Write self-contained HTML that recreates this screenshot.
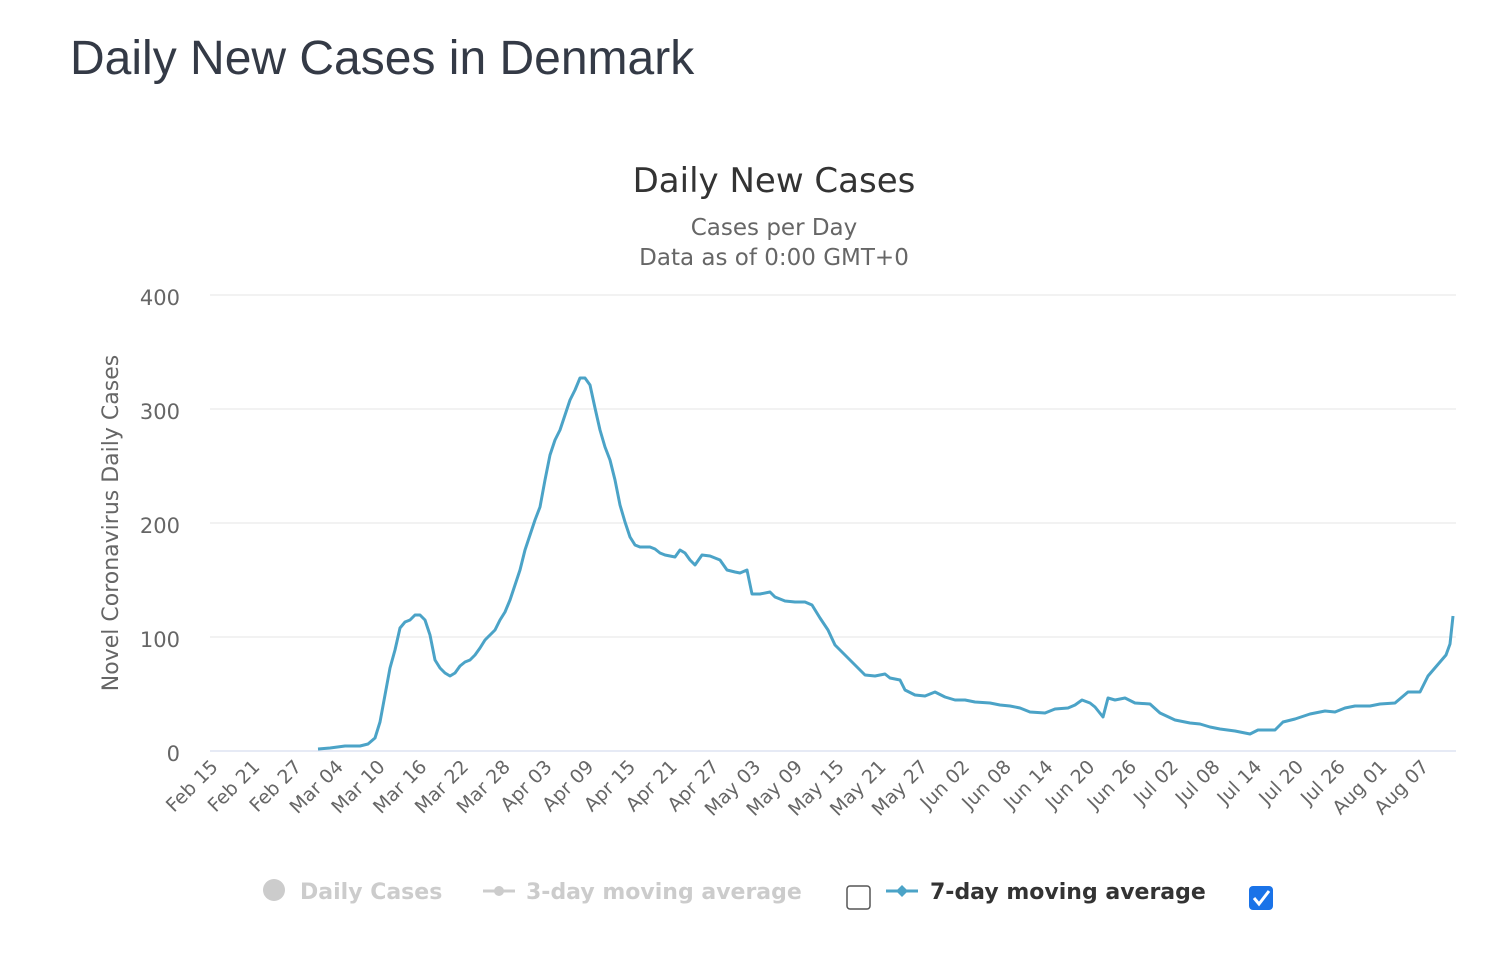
<!DOCTYPE html>
<html><head><meta charset="utf-8"><style>
body{margin:0;background:#fff;width:1508px;height:958px;overflow:hidden;font-family:"Liberation Sans","DejaVu Sans",sans-serif}
</style></head><body>
<svg width="1508" height="958" xmlns="http://www.w3.org/2000/svg" style="position:absolute;left:0;top:0">
<text x="70" y="74" font-size="48" fill="#343a46" font-family="Liberation Sans, sans-serif">Daily New Cases in Denmark</text>
<text x="774" y="192" font-size="34" fill="#333" text-anchor="middle" font-family="DejaVu Sans, sans-serif">Daily New Cases</text>
<text x="774" y="235" font-size="23" fill="#666" text-anchor="middle" font-family="DejaVu Sans, sans-serif">Cases per Day</text>
<text x="774" y="265" font-size="23" fill="#666" text-anchor="middle" font-family="DejaVu Sans, sans-serif">Data as of 0:00 GMT+0</text>
<g stroke="#e6e6e6" stroke-width="1">
<line x1="210" y1="295" x2="1456" y2="295"/><line x1="210" y1="409" x2="1456" y2="409"/><line x1="210" y1="523" x2="1456" y2="523"/><line x1="210" y1="637" x2="1456" y2="637"/>
</g>
<line x1="210" y1="751" x2="1456" y2="751" stroke="#ccd6eb" stroke-width="1"/>
<g font-size="21" fill="#666" text-anchor="end" font-family="DejaVu Sans, sans-serif">
<text x="180" y="305">400</text><text x="180" y="419">300</text><text x="180" y="533">200</text><text x="180" y="647">100</text><text x="180" y="761">0</text>
</g>
<text transform="translate(118,523) rotate(-90)" font-size="22" fill="#666" text-anchor="middle" font-family="DejaVu Sans, sans-serif">Novel Coronavirus Daily Cases</text>
<g font-size="19" fill="#666" text-anchor="end" font-family="DejaVu Sans, sans-serif" id="xl"></g>
<polyline fill="none" stroke="#4ba3c7" stroke-width="3" stroke-linejoin="round" points="318,749 330,748 345,746 360,746 368,744 375,738 380,722 385,695 390,668 395,650 400,628 405,622 410,620 415,615 420,615 425,620 430,635 435,660 440,668 445,673 450,676 455,673 460,666 465,662 470,660 475,655 480,648 485,640 490,635 495,630 500,620 505,612 510,600 515,585 520,570 525,550 530,535 535,520 540,507 545,480 550,455 555,440 560,430 565,415 570,400 575,390 580,378 585,378 590,385 595,408 600,430 605,447 610,460 615,480 620,505 625,522 630,537 635,545 640,547 645,547 650,547 655,549 660,553 665,555 670,556 675,557 680,550 685,553 690,560 695,565 702,555 710,556 720,560 727,570 735,572 740,573 747,570 752,594 760,594 770,592 775,597 785,601 795,602 805,602 812,605 820,618 828,630 835,645 845,655 855,665 865,675 875,676 885,674 890,678 900,680 905,690 915,695 925,696 935,692 945,697 955,700 965,700 975,702 990,703 1000,705 1010,706 1020,708 1030,712 1045,713 1055,709 1068,708 1075,705 1082,700 1090,703 1095,707 1103,717 1108,698 1115,700 1125,698 1135,703 1150,704 1160,713 1175,720 1190,723 1200,724 1210,727 1220,729 1235,731 1250,734 1258,730 1275,730 1283,722 1295,719 1310,714 1325,711 1335,712 1345,708 1355,706 1370,706 1380,704 1395,703 1408,692 1420,692 1428,676 1440,662 1446,655 1450,644 1453,616"/>
<circle cx="274" cy="890" r="11" fill="#ccc"/>
<text x="300" y="899" font-size="22" font-weight="bold" fill="#ccc" font-family="DejaVu Sans, sans-serif">Daily Cases</text>
<line x1="483" y1="891" x2="515" y2="891" stroke="#ccc" stroke-width="3"/><circle cx="499" cy="891" r="5" fill="#ccc"/>
<text x="526" y="899" font-size="22" font-weight="bold" fill="#ccc" font-family="DejaVu Sans, sans-serif">3-day moving average</text>
<rect x="847" y="886" width="23" height="23" rx="3" fill="#fff" stroke="#555" stroke-width="1.5"/>
<line x1="886" y1="891" x2="918" y2="891" stroke="#4ba3c7" stroke-width="3"/><path d="M902 885 L908 891 L902 897 L896 891Z" fill="#4ba3c7"/>
<text x="930" y="899" font-size="22" font-weight="bold" fill="#333" font-family="DejaVu Sans, sans-serif">7-day moving average</text>
<rect x="1249" y="886" width="24" height="24" rx="4" fill="#1a73e8"/>
<path d="M1254 898 L1259 904 L1269 891" fill="none" stroke="#fff" stroke-width="3"/>
</svg>
<script>
var m=["Feb 15","Feb 21","Feb 27","Mar 04","Mar 10","Mar 16","Mar 22","Mar 28","Apr 03","Apr 09","Apr 15","Apr 21","Apr 27","May 03","May 09","May 15","May 21","May 27","Jun 02","Jun 08","Jun 14","Jun 20","Jun 26","Jul 02","Jul 08","Jul 14","Jul 20","Jul 26","Aug 01","Aug 07"];
var g=document.getElementById('xl'),s="";
m.forEach(function(t,i){var x=219+i*41.75,y=768;s+='<text transform="translate('+x+','+y+') rotate(-45)">'+t+'</text>';});
g.innerHTML=s;
</script>
</body></html>
